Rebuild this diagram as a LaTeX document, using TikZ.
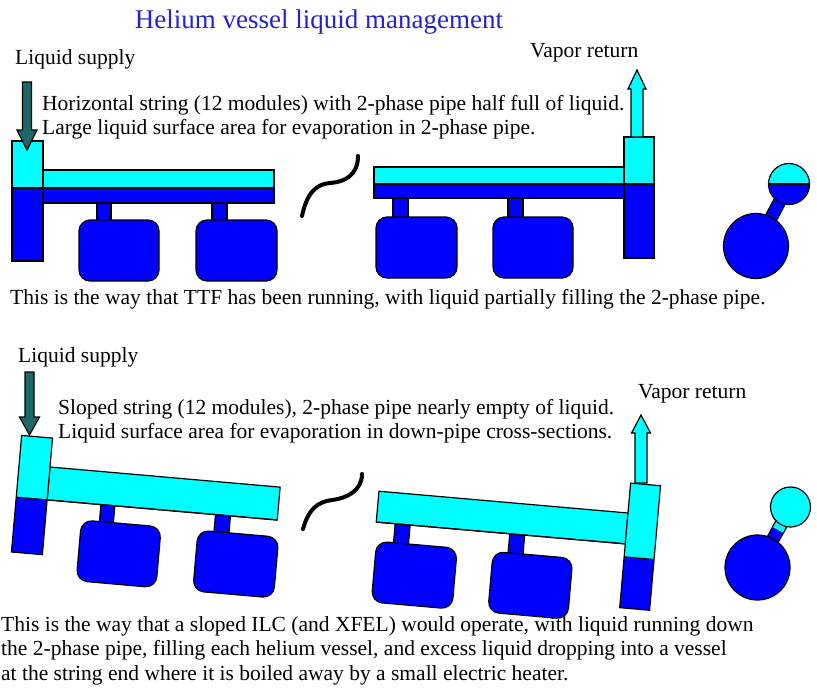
\documentclass[tikz,border=0pt]{standalone}
\usepackage{fontspec}
\setmainfont{Liberation Serif}
\usetikzlibrary{calc}

\definecolor{liquid}{RGB}{0,0,255}
\definecolor{vapor}{RGB}{0,255,255}
\definecolor{supply}{RGB}{28,104,104}
\definecolor{headblue}{RGB}{35,35,205}

\tikzset{
	wall/.style={draw=black, line width=1.2pt},
	fluid/.style={wall, fill=liquid},
	gas/.style={wall, fill=vapor},
	cavity/.style={fluid, rounded corners=11pt},
	stem/.style={line width=1.2pt, double=liquid, double distance=11pt},
	breakmark/.style={line width=4pt, line cap=round},
	note/.style={inner sep=0pt, anchor=base west, font=\fontsize{21.5}{26}\selectfont},
}

% block arrow: tip (#2,#3), signed length #4, signed head length #5, head half width #6, shaft half width #7
\def\blockarrow[#1](#2,#3)(#4:#5:#6:#7){\draw[#1] (#2,#3) -- ++(#6,{-(#5)}) -- ++({#7-#6},0) -- ++(0,{(#5)-(#4)}) -- ++({-2*#7},0) -- ++(0,{(#4)-(#5)}) -- ++({#7-#6},0) -- cycle;}

% supply end of a string: level in string pipe #1, level in end pipe #2, bottom of end pipe #3
\newcommand\feedside[3]{%
	\draw[fluid] (54,30) rectangle (68,52);
	\draw[fluid] (169,30) rectangle (184,52);
	\draw[cavity] (36,50) rectangle (116,111);
	\draw[cavity] (153,50) rectangle (234,111);
	\fill[vapor] (0,0) rectangle (231,#1);
	\fill[liquid] (0,#1) rectangle (231,33);
	\draw[wall] (0,#1) -- (231,#1);
	\draw[wall] (0,0) rectangle (231,33);
	\fill[vapor] (-31,-29) rectangle (0,#2);
	\fill[liquid] (-31,#2) rectangle (0,#3);
	\draw[wall] (-31,#2) -- (0,#2);
	\draw[wall] (-31,-29) rectangle (0,#3);
}

% return end of a string: level in string pipe #1, level in end pipe #2, bottom of end pipe #3
\newcommand\returnside[3]{%
	\draw[fluid] (-231,28) rectangle (-216,51);
	\draw[fluid] (-116,28) rectangle (-101,51);
	\draw[cavity] (-248,50) rectangle (-167,111);
	\draw[cavity] (-131,50) rectangle (-51,111);
	\fill[vapor] (-250,0) rectangle (0,#1);
	\fill[liquid] (-250,#1) rectangle (0,31);
	\draw[wall] (-250,#1) -- (0,#1);
	\draw[wall] (-250,0) rectangle (0,31);
	\fill[vapor] (0,-30) rectangle (30,#2);
	\fill[liquid] (0,#2) rectangle (30,#3);
	\draw[wall] (0,#2) -- (30,#2);
	\draw[wall] (0,-30) rectangle (30,#3);
}

\begin{document}
\begin{tikzpicture}[x=1pt, y=-1pt]
	\useasboundingbox (0,0) rectangle (817,689);

	\node[inner sep=0pt, anchor=base, text=headblue, font=\fontsize{27}{30}\selectfont] (title) at (319,28) {Helium vessel liquid management};

	%%%%% horizontal string %%%%%

	\node[note] (supplyA) at (15,64) {Liquid supply};
	\node[note] (noteA1) at (42,110) {Horizontal string (12 modules) with 2-phase pipe half full of liquid.};
	\node[note] (noteA2) at (42,134) {Large liquid surface area for evaporation in 2-phase pipe.};
	\node[note] (returnA) at (530,57) {Vapor return};

	\begin{scope}[shift={(43,170)}]
		\feedside{18}{18}{91}
	\end{scope}
	\begin{scope}[shift={(624,167)}]
		\returnside{17}{17}{91}
	\end{scope}

	\blockarrow[wall, fill=supply](27,150)(68:20:10:4.5)
	\blockarrow[wall, fill=vapor](637,70)(-67:-19:9:6)

	\draw[breakmark] (302,216) .. controls (307,192) and (317,184) .. (330,183) .. controls (345,182) and (358,175) .. (358,156);

	% heater pot, half full separator
	\coordinate (potA) at (756,246);
	\coordinate (sepA) at (789,184);
	\draw[stem] (potA) -- (sepA);
	\draw[fluid] (potA) circle (32.5);
	\fill[liquid] (sepA) circle (20.5);
	\begin{scope}
		\clip (sepA) ++(-22,-22) rectangle ++(44,22);
		\fill[vapor] (sepA) circle (20.5);
	\end{scope}
	\draw[wall] (sepA) ++(-20.5,0) -- ++(41,0);
	\draw[wall] (sepA) circle (20.5);

	\node[note] (captionA) at (10,304) {This is the way that TTF has been running, with liquid partially filling the 2-phase pipe.};

	%%%%% sloped string %%%%%

	\node[note] (supplyB) at (18,362) {Liquid supply};
	\node[note] (noteB1) at (58,414) {Sloped string (12 modules), 2-phase pipe nearly empty of liquid.};
	\node[note] (noteB2) at (58,438) {Liquid surface area for evaporation in down-pipe cross-sections.};
	\node[note] (returnB) at (638,398) {Vapor return};

	\begin{scope}[shift={(50,467)}, rotate=-5]
		\feedside{33}{33}{88}
	\end{scope}
	\begin{scope}[shift={(628,513)}, rotate=-5]
		\returnside{31}{44}{95}
	\end{scope}

	\blockarrow[wall, fill=supply](29.5,435)(63:18:10:4.5)
	\blockarrow[wall, fill=vapor](641,415)(-68:-18:9.5:6)

	\draw[breakmark] (303,529) .. controls (309,508) and (318,502) .. (332,500) .. controls (348,498) and (362,490) .. (362,474);

	% heater pot, empty separator
	\coordinate (potB) at (757.5,567.5);
	\coordinate (sepB) at (790.5,507);
	\draw[stem] (potB) -- (sepB);
	\draw[stem, double=vapor] (sepB) -- ($(sepB)!0.38!(potB)$);
	\draw[fluid] (potB) circle (32.5);
	\draw[gas] (sepB) circle (20);

	\node[note, align=left, anchor=north west, font=\fontsize{21.5}{24.5}\selectfont] (captionB) at (1,616) {This is the way that a sloped ILC (and XFEL) would operate, with liquid running down\\the 2-phase pipe, filling each helium vessel, and excess liquid dropping into a vessel\\at the string end where it is boiled away by a small electric heater.};
\end{tikzpicture}
\end{document}
